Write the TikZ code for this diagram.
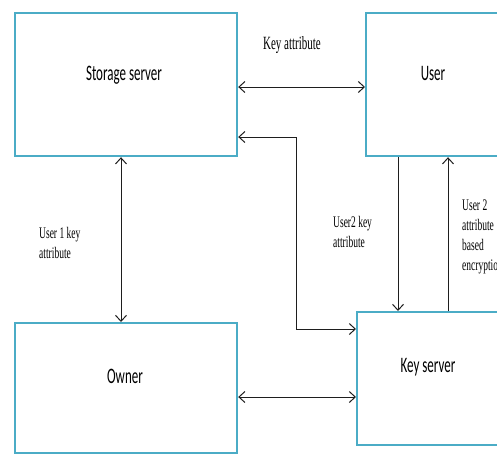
\documentclass[tikz,border=0pt]{standalone}
\usepackage{graphicx}
\usepackage{fontspec}
\setmainfont{Liberation Serif}
\newfontfamily\boxfont{Carlito}
\usetikzlibrary{arrows.meta}
\definecolor{boxblue}{RGB}{75,172,198}
\definecolor{linegray}{RGB}{30,30,30}
\newcommand{\edgetext}[2][9.5]{\scalebox{1}[1.7]{\fontsize{#1}{11.8}\selectfont\begin{tabular}[t]{@{}l@{}}#2\end{tabular}}}
\newcommand{\boxtext}[1]{\scalebox{1}[1.7]{\boxfont\fontsize{13}{15}\selectfont #1}}
\begin{document}
\begin{tikzpicture}[x=1pt,y=-1pt,
  box/.style={draw=boxblue, line width=2.2pt, rectangle, anchor=north west, inner sep=0pt},
  boxlabel/.style={anchor=base, inner sep=0pt, text=black},
  edgelabel/.style={anchor=base west, inner sep=0pt, text=black},
  conn/.style={line width=1pt, draw=linegray},
  >={Straight Barb[length=6pt,width=11pt]}
]
\clip (0,0) rectangle (497,453);
% boxes
\node[box, minimum width=222pt, minimum height=143pt] (st) at (14,12) {};
\node[box, minimum width=145pt, minimum height=143pt] (us) at (365,12) {};
\node[box, minimum width=222pt, minimum height=130pt] (ow) at (14,322) {};
\node[box, minimum width=155pt, minimum height=133pt] (ks) at (356,311) {};
% box texts
\node[boxlabel] (stl) at (124,80) {\boxtext{Storage server}};
\node[boxlabel] (usl) at (433,80) {\boxtext{User}};
\node[boxlabel] (owl) at (125,383) {\boxtext{Owner}};
\node[boxlabel] (ksl) at (428,372) {\boxtext{Key server}};
% helper coordinates
\coordinate (ytop) at (0,87);
\coordinate (c1) at (296,329);
\coordinate (c2) at (296,137);
\coordinate (xv) at (121,0);
\coordinate (xd) at (398,0);
\coordinate (xu) at (448,0);
\coordinate (ybot) at (0,397);
% connectors
\draw[conn,<->] (st.east |- ytop) -- (us.west |- ytop);
\draw[conn,<->] (ks.west |- c1) -- (c1) -- (c2) -- (st.east |- c2);
\draw[conn,<->] (st.south -| xv) -- (ow.north -| xv);
\draw[conn,->] (us.south -| xd) -- (ks.north -| xd);
\draw[conn,->] (ks.north -| xu) -- (us.south -| xu);
\draw[conn,<->] (ow.east |- ybot) -- (ks.west |- ybot);
% edge labels
\node[anchor=base, inner sep=0pt, text=black] (kal) at (292,49) {\edgetext[11]{Key attribute}};
\node[edgelabel] (u1l) at (39,238) {\edgetext{User 1 key\\attribute}};
\node[edgelabel] (u2k) at (333,227) {\edgetext{User2 key\\attribute}};
\node[edgelabel] (u2e) at (462,210) {\edgetext{User 2\\attribute\\based\\encryption}};
\end{tikzpicture}
\end{document}
